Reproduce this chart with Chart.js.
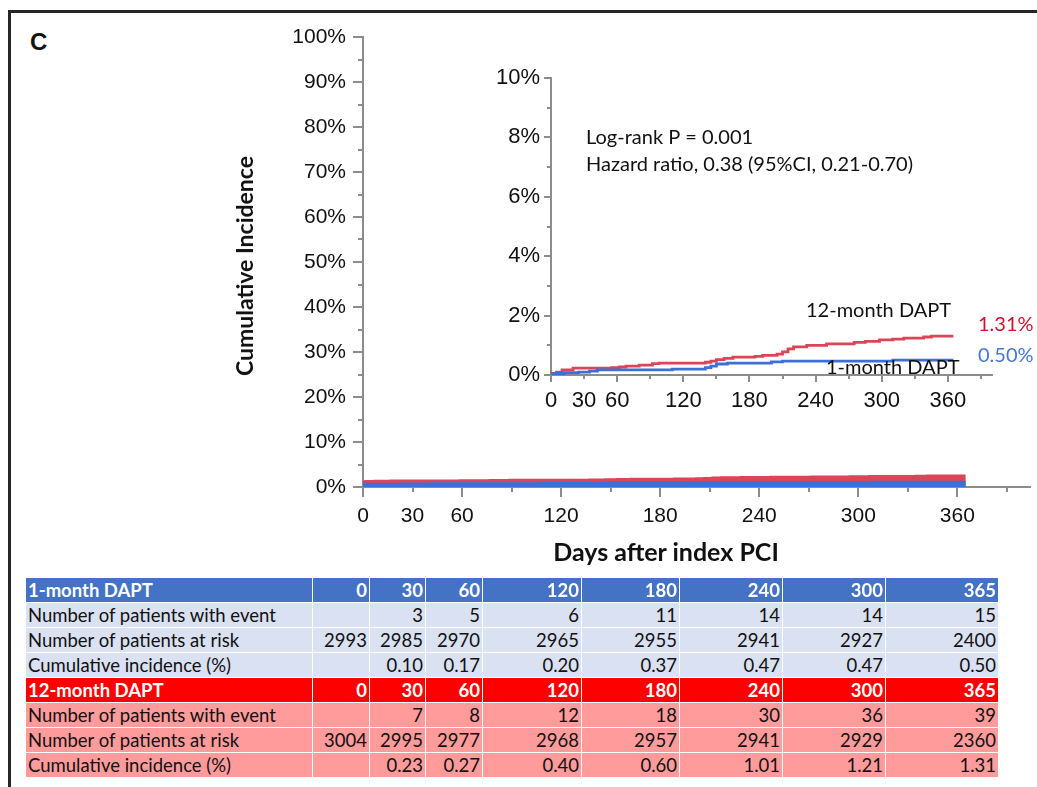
<!DOCTYPE html>
<html>
<head>
<meta charset="utf-8">
<script src="https://cdn.jsdelivr.net/npm/chart.js@4"></script>
<style>
  body { margin: 0; background: #fff; }
  #wrap { position: relative; width: 1037px; height: 787px; overflow: hidden; background: #fff; }
  #frame { position: absolute; left: 8px; top: 10px; width: 1100px; height: 900px; border-top: 3px solid #262626; border-left: 3px solid #262626; }
  #panel { position: absolute; left: 30px; top: 28px; font: bold 24px "Liberation Sans", Arial, sans-serif; color: #111; }
  #main { position: absolute; left: 0; top: 0; }
  #inset { position: absolute; left: 400px; top: 40px; }
  .ttl { position: absolute; font: bold 25px Lato, sans-serif; color: #111; white-space: nowrap; transform: translate(-50%, -50%); }
  #ytitle { left: 244px; top: 266px; font-size: 23px; transform: translate(-50%, -50%) rotate(-90deg); }
  #xtitle { left: 666px; top: 551px; }
  table { position: absolute; left: 25px; top: 577px; width: 973px; border-collapse: collapse; table-layout: fixed; font: 18.5px Lato, sans-serif; color: #111; }
  td { height: 24px; padding: 0 2px; border: 1px solid rgba(255,255,255,0.75); text-align: right; white-space: nowrap; overflow: hidden; line-height: 24px; }
  td:first-child { text-align: left; }
  tr.h1 td { background: #4472C4; color: #fff; font-weight: bold; }
  tr.b1 td { background: #DAE1F2; }
  tr.h12 td { background: #FF0000; color: #fff; font-weight: bold; }
  tr.b12 td { background: #FF9B9B; }
</style>
</head>
<body>
<div id="wrap">
  <div id="frame"></div>
  <div id="panel">C</div>
  <canvas id="main" width="1037" height="570"></canvas>
  <canvas id="inset" width="637" height="380"></canvas>
  <div class="ttl" id="ytitle">Cumulative Incidence</div>
  <div class="ttl" id="xtitle">Days after index PCI</div>
  <table id="risk"></table>
</div>
<script>
// Kaplan-Meier style cumulative incidence (%)
const days1 = [0, 5, 12, 25, 35, 42, 110, 140, 145, 150, 160, 200, 210, 310, 365];
const inc1 = [0.03, 0.05, 0.08, 0.10, 0.13, 0.17, 0.20, 0.25, 0.30, 0.37, 0.40, 0.44, 0.47, 0.50, 0.50];
const days12 = [0, 5, 10, 20, 55, 62, 68, 80, 92, 98, 140, 145, 150, 157, 165, 185, 192, 205, 210, 215, 220, 232, 250, 275, 285, 298, 310, 320, 338, 345, 365];
const inc12 = [0.05, 0.10, 0.17, 0.23, 0.25, 0.27, 0.30, 0.33, 0.38, 0.40, 0.43, 0.47, 0.52, 0.56, 0.60, 0.63, 0.66, 0.70, 0.78, 0.88, 0.95, 1.00, 1.05, 1.10, 1.13, 1.18, 1.21, 1.24, 1.28, 1.31, 1.31];

const xLabels = [0, 30, 60, 120, 180, 240, 300, 360];

// number-at-risk table
const tableDays = [0, 30, 60, 120, 180, 240, 300, 365];
const events1 = ["", 3, 5, 6, 11, 14, 14, 15];
const risk1 = [2993, 2985, 2970, 2965, 2955, 2941, 2927, 2400];
const cum1 = ["", "0.10", "0.17", "0.20", "0.37", "0.47", "0.47", "0.50"];
const events12 = ["", 7, 8, 12, 18, 30, 36, 39];
const risk12 = [3004, 2995, 2977, 2968, 2957, 2941, 2929, 2360];
const cum12 = ["", "0.23", "0.27", "0.40", "0.60", "1.01", "1.21", "1.31"];

const RED = "#DC4458";
const BLUE = "#3C6FD9";
const AXIS = "#8c8c8c";
const FONT = "'Liberation Sans', Arial, sans-serif";

const pts = (xs, ys) => xs.map((d, i) => ({ x: d, y: ys[i] }));

// tick marks: long at major values, short in between
const tickMarks = {
  id: "tickMarks",
  afterDraw(chart, args, o) {
    const { ctx, chartArea } = chart;
    const xs = chart.scales.x, ys = chart.scales.y;
    ctx.save();
    ctx.strokeStyle = AXIS;
    ctx.lineWidth = 2;
    ctx.beginPath();
    for (let v = xs.min; v <= xs.max; v += o.xStep) {
      const px = Math.round(xs.getPixelForValue(v));
      const len = v % o.xMajor === 0 ? o.long : o.short;
      ctx.moveTo(px, chartArea.bottom);
      ctx.lineTo(px, chartArea.bottom + len);
    }
    for (let v = ys.min; v <= ys.max; v += o.yStep) {
      const py = Math.round(ys.getPixelForValue(v));
      const len = v % o.yMajor === 0 ? o.long : o.short;
      ctx.moveTo(chartArea.left, py);
      ctx.lineTo(chartArea.left - len, py);
    }
    ctx.stroke();
    ctx.restore();
  }
};

const insetText = {
  id: "insetText",
  afterDraw(chart) {
    const ctx = chart.ctx;
    ctx.save();
    ctx.font = "20px Lato, sans-serif";
    ctx.textBaseline = "middle";
    ctx.fillStyle = "#111";
    ctx.fillText("Log-rank P = 0.001", 186, 98);
    ctx.fillText("Hazard ratio, 0.38 (95%CI, 0.21-0.70)", 186, 125);
    ctx.fillText("12-month DAPT", 406, 271);
    ctx.fillText("1-month DAPT", 426, 328);
    ctx.fillStyle = "#D0132D";
    ctx.fillText("1.31%", 578, 285);
    ctx.fillStyle = "#4877D1";
    ctx.fillText("0.50%", 578, 316);
    ctx.restore();
  }
};

function xAxis(max, height, pad, size) {
  return {
    type: "linear", min: 0, max: max,
    afterFit: (s) => { s.height = height; },
    border: { display: true, color: AXIS, width: 2 },
    grid: { display: true, drawOnChartArea: false, drawTicks: true, tickLength: 10, tickColor: "rgba(0,0,0,0)" },
    ticks: {
      stepSize: 30, autoSkip: false, maxRotation: 0, padding: pad, color: "#111", font: { family: FONT, size: size },
      callback: (v) => (xLabels.includes(v) ? String(v) : "")
    }
  };
}

function yAxis(max, step, width, tl, pad, size) {
  return {
    min: 0, max: max,
    afterFit: (s) => { s.width = width; },
    border: { display: true, color: AXIS, width: 2 },
    grid: { display: true, drawOnChartArea: false, drawTicks: true, tickLength: tl, tickColor: "rgba(0,0,0,0)" },
    ticks: { stepSize: step, padding: pad, color: "#111", font: { family: FONT, size: size }, callback: (v) => v + "%" }
  };
}

new Chart(document.getElementById("main"), {
  type: "line",
  data: {
    datasets: [
      { data: pts(days1, inc1), borderColor: BLUE, borderWidth: 8, stepped: true, pointRadius: 0, clip: 0 },
      { data: pts(days12, inc12), borderColor: RED, borderWidth: 13, stepped: true, pointRadius: 0, clip: 0 }
    ]
  },
  options: {
    responsive: false,
    animation: false,
    layout: { padding: { top: 37, right: 0, bottom: 0, left: 0 } },
    scales: { x: xAxis(404, 83, 7, 21), y: yAxis(100, 10, 363, 10, 7, 21) },
    plugins: {
      legend: { display: false },
      tooltip: { enabled: false },
      tickMarks: { xStep: 30, xMajor: 60, yStep: 5, yMajor: 10, long: 10, short: 5 }
    }
  },
  plugins: [tickMarks]
});

new Chart(document.getElementById("inset"), {
  type: "line",
  data: {
    datasets: [
      { data: pts(days1, inc1), borderColor: BLUE, borderWidth: 2.8, stepped: true, pointRadius: 0 },
      { data: pts(days12, inc12), borderColor: RED, borderWidth: 2.8, stepped: true, pointRadius: 0 }
    ]
  },
  options: {
    responsive: false,
    animation: false,
    layout: { padding: { top: 38, right: 45, bottom: 0, left: 0 } },
    scales: { x: xAxis(400, 45, 3, 22), y: yAxis(10, 2, 151, 6, 5, 22) },
    plugins: {
      legend: { display: false },
      tooltip: { enabled: false },
      tickMarks: { xStep: 30, xMajor: 60, yStep: 1, yMajor: 2, long: 7, short: 4 }
    }
  },
  plugins: [tickMarks, insetText]
});

// table
const widths = [287, 57, 56, 57, 99, 98, 103, 103, 113];
const rows = [
  ["h1", "1-month DAPT", tableDays],
  ["b1", "Number of patients with event", events1],
  ["b1", "Number of patients at risk", risk1],
  ["b1", "Cumulative incidence (%)", cum1],
  ["h12", "12-month DAPT", tableDays],
  ["b12", "Number of patients with event", events12],
  ["b12", "Number of patients at risk", risk12],
  ["b12", "Cumulative incidence (%)", cum12]
];
const tbl = document.getElementById("risk");
const cg = document.createElement("colgroup");
widths.forEach((w) => { const c = document.createElement("col"); c.style.width = w + "px"; cg.appendChild(c); });
tbl.appendChild(cg);
rows.forEach(([cls, label, vals]) => {
  const tr = document.createElement("tr");
  tr.className = cls;
  [label, ...vals].forEach((v) => { const td = document.createElement("td"); td.textContent = v; tr.appendChild(td); });
  tbl.appendChild(tr);
});
</script>
</body>
</html>
